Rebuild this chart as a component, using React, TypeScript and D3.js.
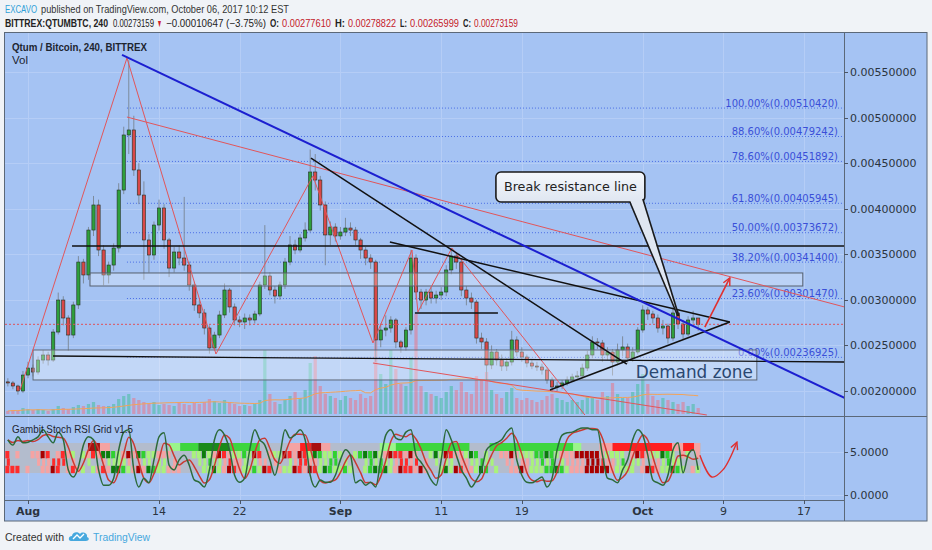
import React, { useEffect } from "react";
import * as d3 from "d3";

const W = 932;
const H = 550;

// 12h candles, first one opens Jul 30 2017 (day -2, Aug 1 = day 0)
const CANDLE_START = -2;
const CANDLE_STEP = 0.5;
const firstOpen = 0.0021;

const closes = [
  0.002088, 0.002055, 0.002, 0.002175, 0.002252, 0.002208, 0.00234, 0.002395, 0.00234, 0.002647,
  0.002998, 0.002801, 0.002614, 0.002944, 0.003415, 0.003273, 0.003766, 0.004041, 0.003547, 0.003273,
  0.003382, 0.003569, 0.004205, 0.004809, 0.004864, 0.004425, 0.00415, 0.003657, 0.003492, 0.003821,
  0.004008, 0.003657, 0.003349, 0.003525, 0.003459, 0.003382, 0.003163, 0.002944, 0.002856, 0.002691,
  0.002472, 0.002614, 0.002834, 0.003108, 0.002922, 0.002779, 0.002757, 0.002801, 0.002779, 0.002845,
  0.003163, 0.003262, 0.003108, 0.003042, 0.003163, 0.003415, 0.003602, 0.003547, 0.003679, 0.003766,
  0.004403, 0.004315, 0.004041, 0.003712, 0.003799, 0.003701, 0.003744, 0.003788, 0.003766, 0.003657,
  0.003547, 0.003459, 0.003415, 0.00256, 0.002669, 0.002691, 0.002779, 0.002538, 0.002483, 0.002669,
  0.003459, 0.003086, 0.002998, 0.003086, 0.00302, 0.003053, 0.003086, 0.003328, 0.003481, 0.003415,
  0.003108, 0.00302, 0.002976, 0.002581, 0.002538, 0.002285, 0.002428, 0.00234, 0.002274, 0.002318,
  0.00256, 0.002428, 0.002373, 0.002307, 0.002274, 0.002263, 0.00223, 0.002121, 0.002044, 0.002055,
  0.002088, 0.002121, 0.002154, 0.002165, 0.002252, 0.002395, 0.002538, 0.002527, 0.002395, 0.002428,
  0.002318, 0.00245, 0.002483, 0.002362, 0.002428, 0.002669, 0.002889, 0.002845, 0.002801, 0.002691,
  0.002713, 0.002581, 0.002856, 0.002735, 0.002625, 0.002779, 0.002801, 0.00273159,
];

const highs = [
  0.00214, 0.00211, 0.00207, 0.00222, 0.00232, 0.00229, 0.00238, 0.00245, 0.00243, 0.00268,
  0.00308, 0.00304, 0.00283, 0.00298, 0.00348, 0.00345, 0.0038, 0.00414, 0.0041, 0.0036,
  0.00342, 0.00362, 0.00428, 0.0049, 0.00563, 0.00502, 0.0045, 0.0043, 0.00372, 0.00386,
  0.0041, 0.00405, 0.00368, 0.00358, 0.0036, 0.00413, 0.00342, 0.0032, 0.003, 0.0029,
  0.00272, 0.00265, 0.00288, 0.00318, 0.00313, 0.00296, 0.00282, 0.00285, 0.00284, 0.00288,
  0.0032, 0.00382, 0.0033, 0.00315, 0.0032, 0.00346, 0.0037, 0.00366, 0.00372, 0.00385,
  0.00465, 0.0046, 0.00436, 0.00408, 0.00386, 0.00384, 0.0038, 0.0039, 0.00385, 0.0038,
  0.00368, 0.00358, 0.0035, 0.00344, 0.00274, 0.00283, 0.00282, 0.0028, 0.00256, 0.0027,
  0.00355, 0.0035, 0.00312, 0.00312, 0.00314, 0.0031, 0.00314, 0.00338, 0.00356, 0.00352,
  0.00345, 0.00315, 0.00308, 0.003, 0.00264, 0.00258, 0.0025, 0.00246, 0.0024, 0.00236,
  0.00266, 0.0026, 0.00248, 0.0024, 0.00234, 0.00232, 0.0023, 0.00226, 0.00215, 0.0021,
  0.00212, 0.00216, 0.00219, 0.00222, 0.0023, 0.00244, 0.0026, 0.00258, 0.00256, 0.00248,
  0.00246, 0.00252, 0.0026, 0.00252, 0.00248, 0.0027, 0.00294, 0.00292, 0.00288, 0.00284,
  0.00278, 0.00274, 0.00292, 0.00288, 0.00278, 0.00282, 0.00288, 0.00278822,
];

const lows = [
  0.00205, 0.00202, 0.00196, 0.00198, 0.00214, 0.00216, 0.00218, 0.0023, 0.00228, 0.00232,
  0.00262, 0.00272, 0.00244, 0.00258, 0.0029, 0.00318, 0.00322, 0.0037, 0.00348, 0.00316,
  0.00318, 0.00332, 0.00352, 0.00416, 0.0046, 0.00436, 0.00405, 0.00322, 0.0033, 0.00344,
  0.00376, 0.00356, 0.00325, 0.0033, 0.00338, 0.00332, 0.0031, 0.00288, 0.0028, 0.00262,
  0.00241, 0.00244, 0.00258, 0.0028, 0.00286, 0.00272, 0.0027, 0.00268, 0.00272, 0.00274,
  0.00282, 0.00312, 0.00305, 0.00296, 0.003, 0.00312, 0.00338, 0.0035, 0.00352, 0.00364,
  0.00374, 0.0042, 0.00398, 0.00338, 0.0036, 0.00364, 0.00366, 0.0037, 0.0037, 0.0036,
  0.00345, 0.00338, 0.00334, 0.00232, 0.00248, 0.0026, 0.00264, 0.00247, 0.00242, 0.00244,
  0.00262, 0.003, 0.0029, 0.00294, 0.00296, 0.00296, 0.003, 0.00304, 0.00328, 0.00334,
  0.00304, 0.00294, 0.0029, 0.00252, 0.00246, 0.00212, 0.00224, 0.00228, 0.00222, 0.00222,
  0.00228, 0.00238, 0.00232, 0.00226, 0.00224, 0.00222, 0.00218, 0.00208, 0.00199, 0.002,
  0.00202, 0.00206, 0.0021, 0.00212, 0.00214, 0.00222, 0.00236, 0.00246, 0.00232, 0.00234,
  0.00217, 0.00228, 0.00238, 0.0023, 0.00232, 0.0024, 0.00264, 0.00278, 0.00274, 0.00264,
  0.00262, 0.00252, 0.00255, 0.00268, 0.00256, 0.0026, 0.00274, 0.00265999,
];

const volumes = [
  3, 4, 3, 6, 5, 4, 5, 4, 3, 5,
  8, 6, 5, 7, 9, 8, 10, 12, 9, 8,
  8, 10, 15, 18, 20, 16, 14, 12, 10, 12,
  9, 10, 9, 8, 12, 10, 9, 11, 10, 12,
  15, 13, 11, 14, 12, 10, 8, 9, 8, 10,
  14, 64, 20, 12, 10, 14, 18, 22, 16, 24,
  51, 58, 28, 20, 18, 16, 14, 18, 16, 14,
  20, 16, 18, 77, 40, 30, 64, 45, 30, 28,
  57, 100, 28, 22, 20, 18, 16, 22, 28, 24,
  32, 22, 20, 38, 34, 42, 24, 20, 16, 22,
  26, 16, 14, 16, 14, 12, 14, 18, 20, 16,
  14, 12, 14, 12, 14, 18, 16, 14, 22, 18,
  31, 20, 16, 16, 22, 30, 40, 30, 18, 14,
  16, 14, 12, 10, 12, 8, 10, 6,
];

const stochK = [
  80, 71, 85, 75, 76, 80, 85, 97, 85, 75,
  93, 80, 29, 17, 34, 71, 85, 80, 29, 3,
  3, 15, 63, 93, 97, 29, 0, 15, 7, 46,
  85, 92, 37, 29, 46, 54, 37, 12, 8, 0,
  29, 80, 97, 88, 63, 20, 8, 15, 63, 97,
  80, 71, 46, 20, 54, 97, 83, 88, 97, 80,
  20, 0, 12, 8, 8, 20, 46, 63, 54, 7,
  12, 3, 8, 0, 46, 88, 97, 83, 80, 93,
  97, 54, 42, 29, 12, 3, 46, 97, 80, 54,
  29, 15, 0, 12, 29, 63, 71, 75, 80, 93,
  100, 46, 20, 8, 7, 12, 17, 0, 15, 63,
  88, 92, 93, 97, 100, 100, 97, 97, 54, 15,
  12, 7, 29, 46, 80, 97, 88, 54, 12, 7,
  3, 20, 63, 75, 24, 54, 63, 29,
];

const priceTicks = [0.002, 0.0025, 0.003, 0.0035, 0.004, 0.0045, 0.005, 0.0055];
const indTicks = [0, 5];

const timeTicks = [
  { day: 0, label: "Aug", bold: true },
  { day: 13, label: "14", bold: false },
  { day: 21, label: "22", bold: false },
  { day: 31, label: "Sep", bold: true },
  { day: 41, label: "11", bold: false },
  { day: 49, label: "19", bold: false },
  { day: 61, label: "Oct", bold: true },
  { day: 69, label: "9", bold: false },
  { day: 77, label: "17", bold: false },
];

const fibStartDay = 9.82;
const fibLevels = [
  { label: "100.00%", price: 0.0051042 },
  { label: "88.60%", price: 0.00479242 },
  { label: "78.60%", price: 0.00451892 },
  { label: "61.80%", price: 0.00405945 },
  { label: "50.00%", price: 0.00373672 },
  { label: "38.20%", price: 0.003414 },
  { label: "23.60%", price: 0.0030147 },
  { label: "0.00%", price: 0.00236925 },
];

// drawings, as [day, price]
const blueTrend: [number, number][] = [[9.33, 0.005687], [81.05, 0.001923]];
const redZigzag: [number, number][] = [
  [-0.79, 0.002011], [9.82, 0.005654], [18.65, 0.002406], [28.27, 0.004359], [34.23, 0.002527],
  [38.1, 0.003547], [38.69, 0.002867], [42.06, 0.003569], [55.26, 0.001737],
];
const redTrends: [number, number][][] = [
  [[9.82, 0.005006], [81.05, 0.002921]],
  [[34.23, 0.002307], [67.36, 0.001737]],
];
const blackTrends: [number, number][][] = [
  [[28.08, 0.004556], [59.42, 0.002296]],
  [[35.91, 0.003635], [69.64, 0.002757]],
  [[51.79, 0.002011], [69.64, 0.002757]],
  [[38.39, 0.002856], [46.63, 0.002856]],
  [[4.37, 0.003591], [81.05, 0.003591]],
  [[2.48, 0.002384], [81.05, 0.002318]],
];
const resistBox = { d0: 6.15, d1: 76.88, p0: 0.003295, p1: 0.003152 };
const demandBox = { d0: 0.5, d1: 72.32, p0: 0.00245, p1: 0.002121 };
const targetArrow: [number, number][] = [[67.16, 0.002702], [69.64, 0.00324]];
const callout = { d0: 46.43, d1: 61.21, p0: 0.004403, p1: 0.004074, b0: 59.72, b1: 61.01, tip: [64.48, 0.002823] };
// projected stoch move, as [day, K]
const stochArrow: [number, number][] = [[66.67, 54], [67.86, 17], [68.95, 29], [70.34, 76]];

// Gambit grid top row blocks: [fromDay, toDay, colour]
const gridBlocks: [number, number, string][] = [
  [5.95, 7.14, "#a81010"], [7.14, 8.13, "#f4a3a3"],
  [14.0, 15.1, "#9af58a"], [15.1, 16.9, "#3ed63e"], [16.9, 20.0, "#1a8a1a"], [20.0, 23.0, "#3ed63e"],
  [25.9, 27.0, "#f4a3a3"], [27.0, 28.1, "#ff2020"], [28.1, 29.1, "#a81010"], [29.1, 30.0, "#f4a3a3"],
  [34.9, 36.5, "#9af58a"], [36.5, 43.8, "#3ed63e"],
  [45.8, 54.1, "#3ed63e"], [54.1, 54.9, "#9af58a"],
  [56.7, 58.0, "#f4a3a3"], [58.0, 63.9, "#ff2020"], [63.9, 65.0, "#f4a3a3"], [65.0, 66.1, "#ff2020"], [66.1, 66.7, "#f4a3a3"],
];

const header1 = [
  { t: "EXCAVO", x: 5, w: 32, fill: "#2f9fd8" },
  { t: "published on TradingView.com, October 06, 2017 10:12 EST", x: 41, w: 248, fill: "#333" },
];
const header2 = [
  { t: "BITTREX:QTUMBTC, 240", x: 5, w: 103, bold: true, fill: "#222" },
  { t: "0.00273159", x: 113, w: 41, fill: "#222" },
  { t: "▼", x: 157, w: 5, fill: "#d0202a" },
  { t: "−0.00010647 (−3.75%)", x: 166, w: 100, fill: "#222" },
  { t: "O:", x: 270, w: 9, bold: true, fill: "#222" },
  { t: "0.00277610", x: 282, w: 49, fill: "#c4202a" },
  { t: "H:", x: 335, w: 10, bold: true, fill: "#222" },
  { t: "0.00278822", x: 348, w: 48, fill: "#c4202a" },
  { t: "L:", x: 400, w: 7, bold: true, fill: "#222" },
  { t: "0.00265999", x: 410, w: 49, fill: "#c4202a" },
  { t: "C:", x: 463, w: 8, bold: true, fill: "#222" },
  { t: "0.00273159", x: 474, w: 44, fill: "#c4202a" },
];

const BG = "#a5c3f3";
const GRID = "#b5cdf6";
const PANE_L = 5;
const PANE_R = 844;
const MAIN_T = 33;
const MAIN_B = 416;
const IND_B = 500;
const AXIS_FONT = "DejaVu Sans";
const UI_FONT = "Liberation Sans";

function cellColour(v: number, prev: number): string | null {
  const rising = v > prev;
  if (v >= 97) return "#a80000";
  if (v <= 3) return "#0b7d0b";
  if (v >= 80) return rising ? "#f5a3a3" : "#ff2b2b";
  if (v <= 20) return rising ? "#2fd12f" : "#a9f27c";
  if (Math.abs(v - prev) < 18) return null;
  return rising ? "#a9f27c" : "#f5a3a3";
}

export default function App() {
  useEffect(() => {
    document.body.style.margin = "0";
  }, []);

  const x = d3.scaleLinear().domain([0, 77]).range([28, 804]);
  const y = d3.scaleLinear().domain([0.002, 0.0055]).range([391, 72]);
  const yVol = d3.scaleLinear().domain([0, 100]).range([414, 314]);
  const yK = d3.scaleLinear().domain([0, 100]).range([487, 428]);
  const yInd = d3.scaleLinear().domain([0, 5]).range([495, 452]);

  const step = x(CANDLE_STEP) - x(0);
  const bodyW = step * 0.64;

  const candles = closes.map((c, i) => ({
    day: CANDLE_START + i * CANDLE_STEP,
    o: i ? closes[i - 1] : firstOpen,
    h: highs[i],
    l: lows[i],
    c,
    v: volumes[i],
  }));

  const volMA = volumes.map((_, i) => d3.mean(volumes.slice(Math.max(0, i - 19), i + 1)) as number);
  const stochD = stochK.map((_, i) => d3.mean(stochK.slice(Math.max(0, i - 2), i + 1)) as number);
  const lagK = stochK.map((_, i) => stochK[Math.max(0, i - 2)]);
  const rows = [stochK, stochD, lagK];

  const priceLine = d3.line<[number, number]>().x((d) => x(d[0])).y((d) => y(d[1]));
  const volLine = d3
    .line<number>()
    .x((_, i) => x(candles[i].day))
    .y((d) => yVol(d));
  const kLine = d3
    .line<number>()
    .x((_, i) => x(candles[i].day))
    .y((d) => yK(d))
    .curve(d3.curveMonotoneX);
  const arrowLine = d3
    .line<[number, number]>()
    .x((d) => x(d[0]))
    .y((d) => yK(d[1]))
    .curve(d3.curveCatmullRom);

  const last = closes[closes.length - 1];
  const cx0 = x(callout.d0);
  const cx1 = x(callout.d1);
  const cy0 = y(callout.p0);
  const cy1 = y(callout.p1);
  const tipX = x(callout.tip[0]);
  const tipY = y(callout.tip[1]);

  return (
    <svg width={W} height={H} style={{ position: "absolute", left: 0, top: 0, display: "block" }}>
      <defs>
        <clipPath id="mainClip">
          <rect x={PANE_L} y={MAIN_T} width={PANE_R - PANE_L} height={MAIN_B - MAIN_T} />
        </clipPath>
        <clipPath id="indClip">
          <rect x={PANE_L} y={MAIN_B} width={PANE_R - PANE_L} height={IND_B - MAIN_B} />
        </clipPath>
        <marker id="arrRed" viewBox="0 0 10 10" refX="9" refY="5" markerWidth="9" markerHeight="9" markerUnits="userSpaceOnUse" orient="auto">
          <path d="M1,1 L9,5 L1,9" fill="none" stroke="#e0302f" strokeWidth="1.6" />
        </marker>
        <linearGradient id="calloutFill" x1="0" y1="0" x2="0" y2="1">
          <stop offset="0" stopColor="#f4f7fc" />
          <stop offset="1" stopColor="#dfe6f1" />
        </linearGradient>
      </defs>

      <rect x={0} y={0} width={W} height={H} fill="#f0f3f7" />

      {/* header */}
      {header1.map((p) => (
        <text key={p.t} x={p.x} y={13} fontFamily={UI_FONT} fontSize={10.5} textLength={p.w} lengthAdjust="spacingAndGlyphs" fill={p.fill}>
          {p.t}
        </text>
      ))}
      {header2.map((p, i) => (
        <text
          key={i}
          x={p.x}
          y={27}
          fontFamily={UI_FONT}
          fontSize={10.5}
          fontWeight={p.bold ? "bold" : "normal"}
          textLength={p.w}
          lengthAdjust="spacingAndGlyphs"
          fill={p.fill}
        >
          {p.t}
        </text>
      ))}

      {/* chart frame */}
      <rect x={4.5} y={32.5} width={922.5} height={488.5} fill={BG} stroke="#5b6878" strokeWidth={1} />

      {/* grid */}
      <g stroke={GRID} strokeWidth={1}>
        {priceTicks.map((p) => (
          <line key={p} x1={PANE_L} x2={PANE_R} y1={Math.round(y(p)) + 0.5} y2={Math.round(y(p)) + 0.5} />
        ))}
        {indTicks.map((t) => (
          <line key={t} x1={PANE_L} x2={PANE_R} y1={Math.round(yInd(t)) + 0.5} y2={Math.round(yInd(t)) + 0.5} />
        ))}
        {timeTicks.map((t) => (
          <line key={t.day} x1={Math.round(x(t.day)) + 0.5} x2={Math.round(x(t.day)) + 0.5} y1={MAIN_T} y2={IND_B} />
        ))}
      </g>

      {/* main pane */}
      <g clipPath="url(#mainClip)">
        {/* volume */}
        {candles.map((d, i) => (
          <rect
            key={i}
            x={x(d.day) - bodyW / 2}
            y={yVol(d.v)}
            width={bodyW}
            height={yVol(0) - yVol(d.v)}
            fill={d.c >= d.o ? "rgba(60,190,150,0.5)" : "rgba(240,110,125,0.5)"}
          />
        ))}
        <path d={volLine(volMA) || ""} fill="none" stroke="#f2a35a" strokeWidth={1} />

        {/* fib */}
        {fibLevels.map((f) => (
          <g key={f.label}>
            <line x1={x(fibStartDay)} x2={PANE_R} y1={y(f.price)} y2={y(f.price)} stroke="#4a6de6" strokeWidth={1} strokeDasharray="1 2" />
            <text x={838} y={y(f.price) - 1.5} textAnchor="end" fontFamily={AXIS_FONT} fontSize={10} fill="#3a4fd8">
              {`${f.label}(${f.price.toFixed(8)})`}
            </text>
          </g>
        ))}

        {/* candles */}
        {candles.map((d, i) => {
          const up = d.c >= d.o;
          const top = y(Math.max(d.o, d.c));
          const bot = y(Math.min(d.o, d.c));
          const cx = x(d.day);
          return (
            <g key={i}>
              <line x1={cx} x2={cx} y1={y(d.h)} y2={y(d.l)} stroke="#7d8b9c" strokeWidth={1} />
              <rect
                x={cx - bodyW / 2}
                y={top}
                width={bodyW}
                height={Math.max(1, bot - top)}
                fill={up ? "#2e9f3c" : "#d94848"}
                stroke="#243024"
                strokeWidth={0.6}
              />
            </g>
          );
        })}

        {/* zones */}
        <rect
          x={x(resistBox.d0)}
          y={y(resistBox.p0)}
          width={x(resistBox.d1) - x(resistBox.d0)}
          height={y(resistBox.p1) - y(resistBox.p0)}
          fill="rgba(255,255,255,0.25)"
          stroke="#56606e"
          strokeWidth={1}
        />
        <rect
          x={x(demandBox.d0)}
          y={y(demandBox.p0)}
          width={x(demandBox.d1) - x(demandBox.d0)}
          height={y(demandBox.p1) - y(demandBox.p0)}
          fill="rgba(255,255,255,0.33)"
          stroke="#5f6978"
          strokeWidth={1}
        />

        {/* last price */}
        <line x1={PANE_L} x2={PANE_R} y1={y(last)} y2={y(last)} stroke="#e0505a" strokeWidth={1} strokeDasharray="2 2" />

        {/* trend lines */}
        {redTrends.map((l, i) => (
          <path key={i} d={priceLine(l) || ""} fill="none" stroke="#e2555a" strokeWidth={1} />
        ))}
        <path d={priceLine(redZigzag) || ""} fill="none" stroke="#e2555a" strokeWidth={1} />
        {blackTrends.map((l, i) => (
          <path key={i} d={priceLine(l) || ""} fill="none" stroke="#111" strokeWidth={i > 3 ? 1.3 : 1.5} />
        ))}
        <path d={priceLine(blueTrend) || ""} fill="none" stroke="#1c1fd0" strokeWidth={2} />
        <path d={priceLine(targetArrow) || ""} fill="none" stroke="#e0302f" strokeWidth={1.6} markerEnd="url(#arrRed)" />

        {/* callout */}
        <rect x={cx0} y={cy0} width={cx1 - cx0} height={cy1 - cy0} rx={5} fill="url(#calloutFill)" stroke="#1a1a1a" strokeWidth={1.6} />
        <polygon points={`${x(callout.b0)},${cy1 - 2} ${tipX},${tipY} ${x(callout.b1)},${cy1 - 2}`} fill="#dfe6f1" />
        <line x1={x(callout.b0)} y1={cy1} x2={tipX} y2={tipY} stroke="#1a1a1a" strokeWidth={1.6} />
        <line x1={x(callout.b1)} y1={cy1 - 3} x2={tipX + 1} y2={tipY} stroke="#1a1a1a" strokeWidth={1.6} />
        <text x={cx0 + 8} y={cy0 + 19.5} fontFamily={AXIS_FONT} fontSize={12.5} textLength={133} lengthAdjust="spacingAndGlyphs" fill="#222">
          Break resistance line
        </text>

        <text x={x(demandBox.d1) - 4} y={y(demandBox.p1) - 2} textAnchor="end" fontFamily={AXIS_FONT} fontSize={18} textLength={117} lengthAdjust="spacingAndGlyphs" fill="#2a4770">
          Demand zone
        </text>
      </g>

      <text x={12} y={51} fontFamily={UI_FONT} fontSize={11.5} fontWeight="bold" textLength={135} lengthAdjust="spacingAndGlyphs" fill="#1d2530">
        Qtum / Bitcoin, 240, BITTREX
      </text>
      <text x={12} y={64} fontFamily={UI_FONT} fontSize={11.5} fill="#1d2530">
        Vol
      </text>

      {/* indicator pane */}
      <g clipPath="url(#indClip)">
        <rect x={PANE_L} y={443} width={x(candles[candles.length - 1].day) + step / 2 - PANE_L} height={30} fill="#b3bccd" />
        {gridBlocks.map(([a, b, c], i) => (
          <rect key={i} x={x(a)} y={443} width={x(b) - x(a)} height={8} fill={c} />
        ))}
        {rows.map((series, r) =>
          series.map((v, i) => {
            const col = cellColour(v, series[Math.max(0, i - 1)]);
            if (!col) return null;
            return (
              <rect
                key={`${r}-${i}`}
                x={x(candles[i].day) - step / 2 + (r === 1 ? 1.5 : 0)}
                y={451 + r * 7.4}
                width={step * (r === 1 ? 0.6 : 0.8)}
                height={7.4}
                fill={col}
              />
            );
          })
        )}
        <path d={kLine(stochD) || ""} fill="none" stroke="#c93a32" strokeWidth={1.5} />
        <path d={kLine(stochK) || ""} fill="none" stroke="#2c6a3a" strokeWidth={1.5} />
        <path d={arrowLine(stochArrow) || ""} fill="none" stroke="#e0302f" strokeWidth={1.4} markerEnd="url(#arrRed)" />
        <text x={12} y={433} fontFamily={UI_FONT} fontSize={11} textLength={121} lengthAdjust="spacingAndGlyphs" fill="#1d2530">
          Gambit Stoch RSI Grid v1.5
        </text>
      </g>

      {/* pane borders */}
      <line x1={PANE_L} x2={927} y1={MAIN_B + 0.5} y2={MAIN_B + 0.5} stroke="#5b6878" />
      <line x1={PANE_R + 0.5} x2={PANE_R + 0.5} y1={MAIN_T} y2={521} stroke="#5b6878" />
      <line x1={PANE_L} x2={PANE_R} y1={IND_B + 0.5} y2={IND_B + 0.5} stroke="#5b6878" />

      {/* price axis */}
      {priceTicks.map((p) => (
        <g key={p}>
          <line x1={PANE_R} x2={PANE_R + 4} y1={Math.round(y(p)) + 0.5} y2={Math.round(y(p)) + 0.5} stroke="#4a5566" />
          <text x={850} y={y(p) + 4} fontFamily={AXIS_FONT} fontSize={11} fill="#2b3440">
            {p.toFixed(8)}
          </text>
        </g>
      ))}
      {indTicks.map((t) => (
        <g key={t}>
          <line x1={PANE_R} x2={PANE_R + 4} y1={Math.round(yInd(t)) + 0.5} y2={Math.round(yInd(t)) + 0.5} stroke="#4a5566" />
          <text x={850} y={yInd(t) + 4} fontFamily={AXIS_FONT} fontSize={11} fill="#2b3440">
            {t.toFixed(4)}
          </text>
        </g>
      ))}

      {/* time axis */}
      {timeTicks.map((t) => (
        <g key={t.day}>
          <line x1={Math.round(x(t.day)) + 0.5} x2={Math.round(x(t.day)) + 0.5} y1={IND_B} y2={IND_B + 4} stroke="#4a5566" />
          <text x={x(t.day)} y={515} textAnchor="middle" fontFamily={AXIS_FONT} fontSize={11} fontWeight={t.bold ? "bold" : "normal"} fill="#2b3440">
            {t.label}
          </text>
        </g>
      ))}

      {/* footer */}
      <text x={5} y={541} fontFamily={UI_FONT} fontSize={11.5} textLength={59} lengthAdjust="spacingAndGlyphs" fill="#333">
        Created with
      </text>
      <g>
        <path d="M71,541 C68,541 68,536 72,536 C72,532 78,531 80,534 C82,531 88,533 87,537 C90,538 89,541 86,541 Z" fill="#46a8de" />
        <path d="M73,539 L77,535 L80,538 L84,534" fill="none" stroke="#fff" strokeWidth={1.3} />
      </g>
      <text x={93} y={541} fontFamily={UI_FONT} fontSize={11.5} textLength={57} lengthAdjust="spacingAndGlyphs" fill="#46a8de">
        TradingView
      </text>
    </svg>
  );
}
